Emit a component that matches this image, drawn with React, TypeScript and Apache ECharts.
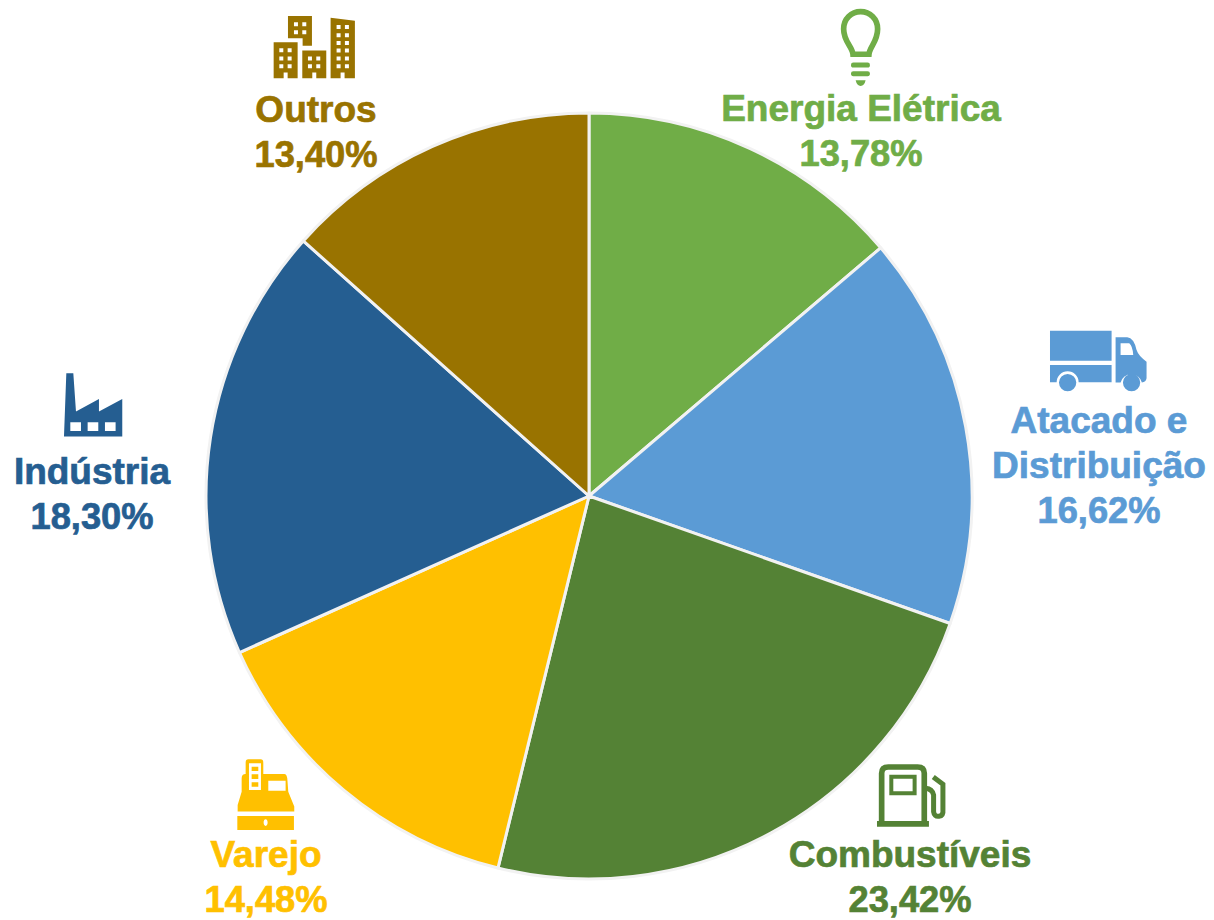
import React, { useEffect, useRef } from "react";
import * as echarts from "echarts";

const categories = ["Energia Elétrica", "Atacado e\nDistribuição", "Combustíveis", "Varejo", "Indústria", "Outros"];
const shares = [13.78, 16.62, 23.42, 14.48, 18.3, 13.4];
const colors = ["#70AD47", "#5B9BD5", "#548235", "#FFC000", "#255E91", "#997300"];
const labelCenters = [
  [861, 131],
  [1099, 465],
  [910, 877],
  [266, 877],
  [92, 494],
  [316, 132],
];

const cw = (x0: number, y0: number, x1: number, y1: number) => `M${x0} ${y0}L${x1} ${y0}L${x1} ${y1}L${x0} ${y1}Z`;
const ccw = (x0: number, y0: number, x1: number, y1: number) => `M${x0} ${y0}L${x0} ${y1}L${x1} ${y1}L${x1} ${y0}Z`;
const disc = (cx: number, cy: number, r: number) => `M${cx - r} ${cy}A${r} ${r} 0 0 1 ${cx + r} ${cy}A${r} ${r} 0 0 1 ${cx - r} ${cy}Z`;
const windows = (xs: number[], ys: number[]) =>
  ys.map((y) => xs.map((x) => ccw(x, y, x + 12, y + 12)).join("")).join("");
const door = (x: number, top: number, bottom: number) => `L${x + 12} ${bottom}L${x + 12} ${top}L${x} ${top}L${x} ${bottom}`;

const buildings =
  "M84 33L156 33L156 122L128 122L128 100L84 100Z" + windows([102, 127], [52, 76]) +
  `M41 112L113 112L113 220${door(71, 203, 220)}L41 220Z` + windows([58, 83], [130, 155, 178]) +
  `M127 137L199 137L199 220${door(157, 203, 220)}L127 220Z` + windows([144, 169], [155, 178]) +
  `M212 38L285 47L285 220${door(242, 203, 220)}L212 220Z` + windows([230, 255], [60, 85, 108, 131, 155, 178]);

const bulbGlass = "M84 148L132 148C134 125 158 110 158 72C158 42 135 20 107 20C79 20 56 42 56 72C56 110 82 125 84 148Z";
const bulbBase =
  "M85 173L128 173Q135 173 135 180Q135 188 128 188L85 188Q78 188 78 180Q78 173 85 173Z" +
  "M85 199L128 199Q135 199 135 206Q135 214 128 214L85 214Q78 214 78 206Q78 199 85 199Z" +
  "M92 226L122 226Q118 243 107 243Q96 243 92 226Z";

const truck =
  cw(30, 32, 215, 122) +
  "M30 135L215 135L215 187L116 187A33 33 0 0 0 50 187L30 187Z" +
  "M227 52L262 52Q282 54 290 90Q296 108 320 125L320 175Q318 186 306 188A33 33 0 0 0 242 188L227 188Z" +
  "M242 70L242 105L280 105Q278 78 268 70Z" +
  disc(83, 188, 26) + disc(275, 188, 26);

const pumpBody = "M50 200L50 55Q50 36 70 36L158 36Q178 36 178 55L178 200M36 207L192 207";
const pumpHose = "M182 100Q202 102 206 120L206 170Q208 186 222 184Q236 182 234 165L234 88L205 66";
const pumpScreen = "M79 65L149 65L149 115L79 115Z";

const cashRegister =
  "M70 28L107 28Q115 28 115 38L115 72L178 72Q185 72 187 85L190 125L208 170L208 185L38 185L38 165L50 125L50 85Q50 72 62 72L62 38Q62 28 70 28Z" +
  ccw(72, 40, 108, 120) + cw(80, 50, 100, 63) + cw(80, 73, 100, 87) + cw(80, 97, 100, 110) +
  ccw(130, 92, 182, 122) +
  cw(37, 198, 207, 240) +
  "M122 208C114 208 114 228 122 228C130 228 130 208 122 208Z";

const factory =
  "M34 25L55 25L63 140L132 102L132 140L202 102L202 215L27 215Z" +
  ccw(46, 172, 78, 198) + ccw(98, 172, 130, 198) + ccw(150, 172, 182, 198);

const shapes: Record<string, string> = {
  iconBuildings: buildings,
  iconBulbGlass: bulbGlass,
  iconBulbBase: bulbBase,
  iconTruck: truck,
  iconPumpBody: pumpBody,
  iconPumpHose: pumpHose,
  iconPumpScreen: pumpScreen,
  iconRegister: cashRegister,
  iconFactory: factory,
};
Object.keys(shapes).forEach((name) => {
  echarts.graphic.registerShape(name, echarts.graphic.extendPath(shapes[name], {}));
});

const third = 1 / 3;
const filled = (type: string, x: number, y: number, fill: string) => ({
  type, x, y, scaleX: third, scaleY: third, silent: true, style: { fill, stroke: "none" },
});
const stroked = (type: string, x: number, y: number, stroke: string, lineWidth: number) => ({
  type, x, y, scaleX: third, scaleY: third, silent: true, style: { fill: "none", stroke, lineWidth },
});

const textStyle = (color: string, fontSize: number) => ({
  color,
  fontSize,
  fontWeight: "bold",
  fontFamily: "Liberation Sans",
  lineHeight: 45,
  textBorderColor: color,
  textBorderWidth: 0.7,
});

export default function App() {
  const ref = useRef<HTMLDivElement>(null);
  useEffect(() => {
    document.body.style.margin = "0";
    const chart = echarts.init(ref.current!, null, { renderer: "svg" });
    chart.setOption({
      animation: false,
      backgroundColor: "#FFFFFF",
      graphic: [
        filled("iconBuildings", 260, 5, colors[5]),
        stroked("iconBulbGlass", 825, 5, colors[0], 17),
        filled("iconBulbBase", 825, 5, colors[0]),
        filled("iconTruck", 1040, 320, colors[1]),
        stroked("iconPumpBody", 865, 755, colors[2], 17),
        stroked("iconPumpHose", 865, 755, colors[2], 15),
        stroked("iconPumpScreen", 865, 755, colors[2], 12),
        filled("iconRegister", 225, 750, colors[3]),
        filled("iconFactory", 55, 365, colors[4]),
      ],
      series: [
        {
          type: "pie",
          center: [589, 496],
          radius: [0, 383],
          startAngle: 90,
          clockwise: true,
          avoidLabelOverlap: false,
          itemStyle: { borderColor: "#F2F2F2", borderWidth: 3 },
          emphasis: { disabled: true },
          labelLine: { show: false },
          label: {
            show: true,
            position: "outside",
            overflow: "none",
            align: "center",
            verticalAlign: "middle",
            formatter: (p: any) =>
              p.name.split("\n").map((line: string) => `{n|${line}}`).join("\n") +
              `\n{v|${p.value.toFixed(2).replace(".", ",")}%}`,
          },
          labelLayout: (p: any) => ({
            x: labelCenters[p.dataIndex][0],
            y: labelCenters[p.dataIndex][1],
            align: "center",
            verticalAlign: "middle",
          }),
          data: categories.map((name, i) => ({
            name,
            value: shares[i],
            itemStyle: { color: colors[i] },
            label: { rich: { n: textStyle(colors[i], 37), v: textStyle(colors[i], 36.3) } },
          })),
        },
      ],
    });
    return () => chart.dispose();
  }, []);
  return <div ref={ref} style={{ width: 1214, height: 920 }} />;
}
